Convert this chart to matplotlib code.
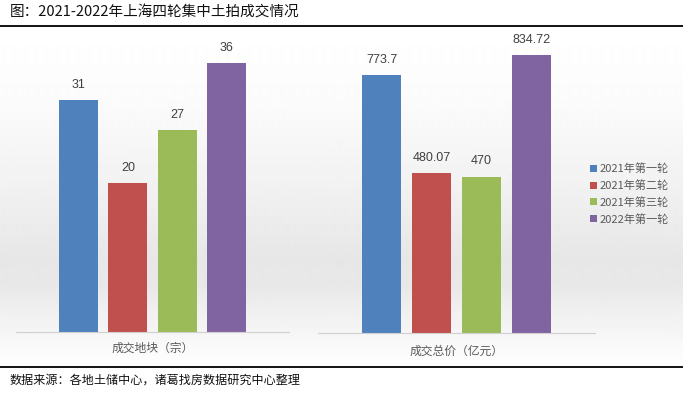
import numpy as np
import matplotlib
matplotlib.use("Agg")
import matplotlib.pyplot as plt

plt.rcParams['font.family'] = ['Noto Sans CJK SC', 'DejaVu Sans']

##### data
rounds = ["2021年第一轮", "2021年第二轮", "2021年第三轮", "2022年第一轮"]
plots_count = [31, 20, 27, 36]            # 成交地块（宗）
total_price = [773.7, 480.07, 470, 834.72]  # 成交总价（亿元）
group_labels = ["成交地块（宗）", "成交总价（亿元）"]
title = "图：2021-2022年上海四轮集中土拍成交情况"
source = "数据来源：各地土储中心，诸葛找房数据研究中心整理"

colors = ["#4f81bd", "#c0504d", "#9bbb59", "#8064a2"]
W, H = 683, 395

fig = plt.figure(figsize=(W/100, H/100), dpi=100)
fig.patch.set_facecolor("white")

def px(x0, y0, x1, y1):
    # pixel box (top-left origin) -> figure fraction rect
    return [x0/W, 1 - y1/H, (x1-x0)/W, (y1-y0)/H]

#### background gradient of the chart area
bg = fig.add_axes(px(0, 28, W, 366), zorder=-10)
rows = np.arange(28, 366)
shade = np.interp(rows, [28, 100, 180, 260, 285, 310, 335, 366],
                  [1.0, 0.985, 0.95, 0.905, 0.91, 0.94, 0.965, 1.0])
bg.imshow(np.repeat(shade[:, None], 2, axis=1), cmap="gray", vmin=0, vmax=1,
          aspect="auto", interpolation="bilinear")
bg.axis("off")

#### the two bar panels
panels = [
    (px(16, 28, 289, 332), plots_count, 40.7, 348),
    (px(318, 28, 595, 333), total_price, 916, 351),
]
xs = np.arange(len(rounds))
bars_for_legend = None
for i, (rect, vals, ytop, ly) in enumerate(panels):
    ax = fig.add_axes(rect)
    ax.patch.set_alpha(0)
    b = ax.bar(xs, vals, width=0.79, color=colors)
    if bars_for_legend is None:
        bars_for_legend = b
    for xx, v in zip(xs, vals):
        ax.annotate("{:g}".format(v), (xx, v), xytext=(0, 6.5), textcoords="offset points",
                    ha="center", va="bottom", fontsize=9, color="#404040",
                    family=["Liberation Sans", "DejaVu Sans"])
    ax.set_xlim(-1.27, 4.27)
    ax.set_ylim(0, ytop)
    for s in ["top", "left", "right"]:
        ax.spines[s].set_visible(False)
    ax.spines["bottom"].set_color("#d0d0d0")
    ax.set_xticks([])
    ax.set_yticks([])
    cx = (rect[0] + rect[2]/2)
    fig.text(cx, 1 - ly/H, group_labels[i], ha="center", va="center",
             fontsize=8.5, color="#595959")

fig.legend(bars_for_legend, rounds, loc="center left",
           bbox_to_anchor=(580/W, 1 - 194/H), frameon=False,
           handlelength=0.6, handleheight=0.6, handletextpad=0.3,
           labelspacing=0.55, fontsize=8, labelcolor="#595959")

#### title, rules and source
fig.text(10/W, 1 - 13/H, title, ha="left", va="center", fontsize=10.5, color="#111111")
fig.add_artist(plt.Line2D([0, 1], [1 - 26/H]*2, color="black", lw=1.3))
fig.add_artist(plt.Line2D([0, 1], [1 - 367/H]*2, color="black", lw=1.3))
fig.text(10/W, 1 - 380/H, source, ha="left", va="center", fontsize=8.7, color="#111111")

fig.savefig("out.png", dpi=100)
